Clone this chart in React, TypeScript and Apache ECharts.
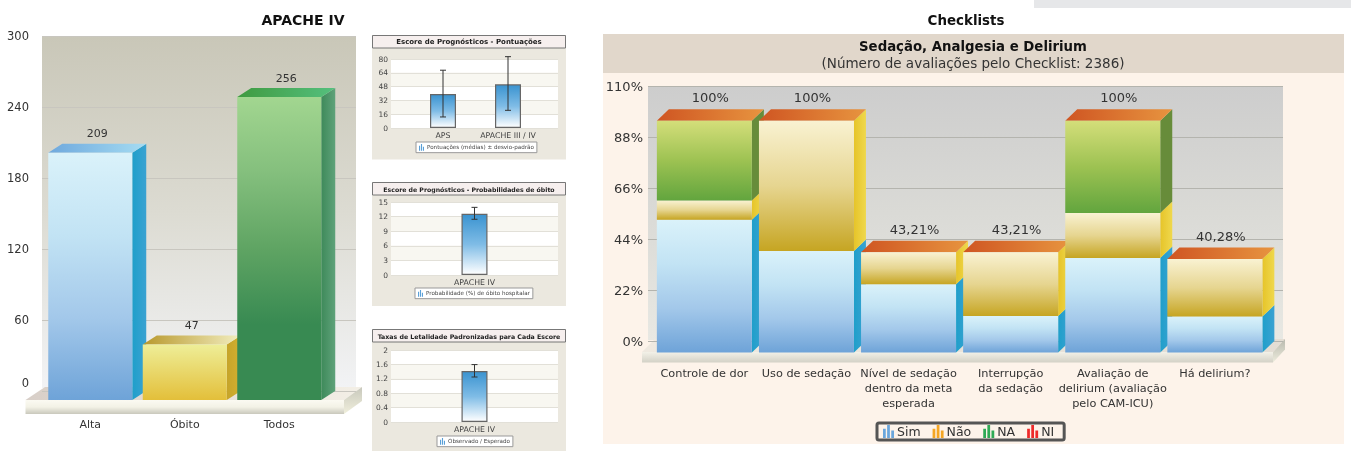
import React, { useEffect, useRef } from "react";
import * as echarts from "echarts";

const FONT = '"DejaVu Sans", Verdana, sans-serif';

// ---- APACHE IV
const apacheCategories = ["Alta", "Óbito", "Todos"];
const apacheValues = [209, 47, 256];
const apacheTicks = { max: 300, step: 60 };

// ---- small charts
const scoreCategories = ["APS", "APACHE III / IV"];
const scoreMeans = [39.4, 50.6];
const scoreLow = [12.8, 20.5];
const scoreHigh = [67, 82.7];
const probCategories = ["APACHE IV"];
const probMeans = [12.6];
const probLow = [11.45];
const probHigh = [13.9];
const smrCategories = ["APACHE IV"];
const smrMeans = [1.417];
const smrLow = [1.25];
const smrHigh = [1.595];

// ---- Checklists
const checkCategories = [
  "Controle de dor",
  "Uso de sedação",
  "Nível de sedação\ndentro da meta\nesperada",
  "Interrupção\nda sedação",
  "Avaliação de\ndelirium (avaliação\npelo CAM-ICU)",
  "Há delirium?",
];
const simValues = [57.3, 43.8, 29.4, 15.7, 40.8, 15.5];
const naoValues = [8.3, 56.2, 13.81, 27.51, 19.4, 24.78];
const naValues = [34.4, 0, 0, 0, 39.8, 0];
const niValues = [0, 0, 0, 0, 0, 0];
const checkTotals = ["100%", "100%", "43,21%", "43,21%", "100%", "40,28%"];

const lg = (stops: string[], horizontal = false) =>
  new echarts.graphic.LinearGradient(0, 0, horizontal ? 1 : 0, horizontal ? 0 : 1,
    stops.map((c, i) => ({ offset: stops.length === 1 ? 0 : i / (stops.length - 1), color: c })));

const BLUE = { front: ["#daf2fa", "#c2e3f4", "#a3c8ea", "#6ea3d8"], side: ["#1f9fca", "#3aa2d2"], top: ["#6ea8dd", "#a5dcf2"] };
const GOLD_L = { front: ["#eeee98", "#e3bf3a"], side: ["#c6a429", "#d2b030"], top: ["#b8982c", "#f2eec0"] };
const GREEN_L = { front: ["#a2d690", "#84bf7d", "#5fa463", "#388a52", "#388a52"], side: ["#3e8a5a", "#5fa27a"], top: ["#3f9a40", "#55c07e"] };
const apachePalette = [BLUE, GOLD_L, GREEN_L];

const GOLD = { front: ["#f9f2d2", "#e6d590", "#c6a522"], side: ["#e6c429", "#efd84d"] };
const GREEN = { front: ["#d4de7a", "#9dc252", "#62a53e"], side: ["#678c3a", "#678c3a"] };
const RED = { front: ["#f06a5a", "#d92b20"], side: ["#b02018", "#b02018"] };
const CAP = ["#cf5522", "#e7943f"];
const checkPalette = [BLUE, GOLD, GREEN, RED];

function box(api: any, opt: { cx: number; base: number; top: number; w: number; dx: number; dy: number; style: any; z2: number; cap?: string[]; label?: string; font?: string; labelGap?: number }) {
  const { cx, base, top, w, dx, dy, style, z2, cap, label, font, labelGap } = opt;
  const x = api.coord([cx, base])[0];
  const yb = api.coord([cx, base])[1] + dy;
  const yt = api.coord([cx, top])[1] + dy;
  const x0 = x - w / 2;
  const x1 = x + w / 2;
  const kids: any[] = [];
  kids.push({ type: "polygon", z2, shape: { points: [[x1, yt], [x1 + dx, yt - dy], [x1 + dx, yb - dy], [x1, yb]] }, style: { fill: lg(style.side, true) } });
  if (cap) {
    kids.push({ type: "polygon", z2, shape: { points: [[x0, yt], [x0 + dx, yt - dy], [x1 + dx, yt - dy], [x1, yt]] }, style: { fill: lg(cap, true) } });
  }
  kids.push({ type: "rect", z2: z2 + 1, shape: { x: x0, y: yt, width: w, height: yb - yt }, style: { fill: lg(style.front) } });
  if (label) {
    kids.push({ type: "text", z2: 500, style: { x: x + dx / 2, y: yt - dy - (labelGap as number), text: label, fill: "#333", font, align: "center", verticalAlign: "middle" } });
  }
  return { type: "group", children: kids };
}

function backdrop(w: { x: number; y: number; w: number; h: number; wall: string[] }, f: { left: number; back: number; right: number; backRight: number; y: number; yBack: number; h: number; topC: string[]; frontC: string[]; sideC: string[] }) {
  return [
    { type: "rect", z: -5, shape: { x: w.x, y: w.y, width: w.w, height: w.h }, style: { fill: lg(w.wall) } },
    { type: "polygon", z: -4, shape: { points: [[f.left, f.y], [f.back, f.yBack], [f.backRight, f.yBack], [f.right, f.y]] }, style: { fill: lg(f.topC, true) } },
    { type: "polygon", z: -4, shape: { points: [[f.right, f.y], [f.backRight, f.yBack], [f.backRight, f.yBack + f.h], [f.right, f.y + f.h]] }, style: { fill: lg(f.sideC) } },
    { type: "rect", z: -4, shape: { x: f.left, y: f.y, width: f.right - f.left, height: f.h }, style: { fill: lg(f.frontC) } },
  ];
}

const gtext = (x: number, y: number, text: string, font: string, fill = "#111") => ({
  type: "text", z: 10, style: { x, y, text, font, fill, align: "center", verticalAlign: "middle" },
});

function buildOption() {
  const grid: any[] = [];
  const xAxis: any[] = [];
  const yAxis: any[] = [];
  const series: any[] = [];
  const legend: any[] = [];
  const elements: any[] = [];

  // page + panels
  elements.push({ type: "rect", z: -6, shape: { x: 1034, y: 0, width: 317, height: 8 }, style: { fill: "#e6e7e9" } });
  elements.push(gtext(303, 20, "APACHE IV", `bold 14px ${FONT}`));
  elements.push(gtext(966, 20, "Checklists", `bold 13.4px ${FONT}`));

  // helper: a back grid with axis + gridlines, a front grid holding categories
  const addPlot = (back: any, front: any, categories: string[], yCfg: any, backExtra: any, xLabel: any) => {
    const gi = grid.length;
    grid.push({ left: back.left, top: back.top, width: back.width, height: back.height, containLabel: false });
    xAxis.push({ gridIndex: gi, type: "category", show: false, data: categories });
    yAxis.push({
      gridIndex: gi, type: "value", min: 0, max: yCfg.max, interval: yCfg.step,
      axisLine: { show: false }, axisTick: { show: false },
      axisLabel: yCfg.label,
      ...backExtra,
    });
    grid.push({ left: front.left, top: back.top, width: front.width, height: back.height });
    xAxis.push({
      gridIndex: gi + 1, type: "category", data: categories,
      axisLine: { show: false }, axisTick: { show: false }, axisLabel: { interval: 0, color: "#333", fontFamily: FONT, ...xLabel },
    });
    yAxis.push({ gridIndex: gi + 1, type: "value", min: 0, max: yCfg.max, interval: yCfg.step, show: false, splitLine: { show: false } });
    return gi + 1;
  };

  // ---- APACHE IV big chart
  elements.push(...backdrop(
    { x: 42, y: 36, w: 314, h: 352, wall: ["#c9c7b8", "#dcdbd2", "#f2f3f5"] },
    { left: 25.5, back: 45, right: 344, backRight: 362, y: 400, yBack: 387, h: 14, topC: ["#d8cfc8", "#f3efe6"], frontC: ["#fbfaf2", "#f3f2e6", "#c9c8bc"], sideC: ["#c8c8bc", "#f0efdc"] }
  ));
  const a = addPlot(
    { left: 42, top: 36, width: 314, height: 355 }, { left: 43, width: 283.5 }, apacheCategories,
    {
      max: apacheTicks.max, step: apacheTicks.step,
      label: {
        margin: 13, color: "#333", fontFamily: FONT, fontSize: 11.5,
        formatter: (v: number) => (v === 0 ? "{z|0}" : String(v)),
        rich: { z: { padding: [0, 0, 16, 0], fontSize: 11.5, fontFamily: FONT, color: "#333" } },
      },
    },
    { splitLine: { show: true, lineStyle: { color: "#c8c6bf", width: 1 } } },
    { margin: 28, fontSize: 11 }
  );
  series.push({
    type: "custom", name: "APACHE IV", xAxisIndex: a, yAxisIndex: a, silent: true, clip: false,
    data: apacheValues.map((v, i) => [i, v]),
    encode: { x: 0, y: 1 },
    renderItem: (_: any, api: any) => {
      const i = api.value(0);
      const v = api.value(1);
      return box(api, { cx: i, base: 0, top: v, w: 84, dx: 14, dy: 9, style: apachePalette[i], z2: i * 10, cap: apachePalette[i].top, label: String(v), font: `11px ${FONT}`, labelGap: 10 });
    },
  });

  // ---- small charts
  const small = (cfg: any) => {
    elements.push({ type: "rect", z: -5, shape: { x: 372, y: cfg.panelTop, width: 194, height: cfg.panelH }, style: { fill: "#ebe8df" } });
    elements.push({ type: "rect", z: -4, shape: { x: 372.5, y: cfg.panelTop + 0.5, width: 193, height: 12.5 }, style: { fill: "#f6efee", stroke: "#777", lineWidth: 1 } });
    elements.push(gtext(469, cfg.panelTop + 7, cfg.title, `bold ${cfg.titleSize}px ${FONT}`, "#222"));
    const gi = addPlot(
      { left: 391, top: cfg.top, width: 167, height: cfg.h }, { left: cfg.frontLeft, width: cfg.frontW }, cfg.cats,
      { max: cfg.max, step: cfg.step, label: { margin: 3, color: "#444", fontFamily: FONT, fontSize: 7.5 } },
      {
        splitLine: { show: true, lineStyle: { color: "#e2e0d8", width: 1 } },
        splitArea: { show: true, areaStyle: { color: ["#ffffff", "#f8f7f1"] } },
      },
      { margin: 3, fontSize: 7.8, color: "#444" }
    );
    series.push({
      type: "bar", name: cfg.legend, xAxisIndex: gi, yAxisIndex: gi, silent: true, barWidth: 26,
      data: cfg.means,
      itemStyle: { color: lg(["#3a93d0", "#7fbce6", "#ffffff"]), borderColor: "#666", borderWidth: 1.2 },
    });
    series.push({
      type: "custom", name: cfg.legend + " erro", xAxisIndex: gi, yAxisIndex: gi, silent: true, clip: false, z: 5,
      data: cfg.means.map((_: number, i: number) => [i, cfg.low[i], cfg.high[i]]),
      encode: { x: 0, y: [1, 2] },
      renderItem: (_: any, api: any) => {
        const p0 = api.coord([api.value(0), api.value(1)]);
        const p1 = api.coord([api.value(0), api.value(2)]);
        const st = { stroke: "#333", lineWidth: 1, fill: "none" };
        return {
          type: "group", children: [
            { type: "line", shape: { x1: p0[0], y1: p0[1], x2: p1[0], y2: p1[1] }, style: st },
            { type: "line", shape: { x1: p0[0] - 3, y1: p0[1], x2: p0[0] + 3, y2: p0[1] }, style: st },
            { type: "line", shape: { x1: p1[0] - 3, y1: p1[1], x2: p1[0] + 3, y2: p1[1] }, style: st },
          ],
        };
      },
    });
    legend.push({
      left: cfg.legLeft, top: cfg.legTop, selectedMode: false, padding: [2, 3], itemWidth: 5, itemHeight: 7, itemGap: 4,
      backgroundColor: "#ffffff", borderColor: "#999", borderWidth: 1,
      textStyle: { fontFamily: FONT, fontSize: 5.6, color: "#444", padding: [0, 0, 0, -2] },
      data: [{ name: cfg.legend, icon: "path://M0 3h2v9H0z M3.5 0h2v12h-2z M7 5h2v7H7z", itemStyle: { color: "#5aa0d8", borderWidth: 0 } }],
    });
  };
  small({
    panelTop: 35, panelH: 124.5, title: "Escore de Prognósticos - Pontuações", titleSize: 7, top: 59, h: 69, max: 80, step: 16,
    frontLeft: 410.5, frontW: 130, cats: scoreCategories, means: scoreMeans, low: scoreLow, high: scoreHigh,
    legend: "Pontuações (médias) ± desvio-padrão", legLeft: 416, legTop: 142,
  });
  small({
    panelTop: 182, panelH: 124, title: "Escore de Prognósticos - Probabilidades de óbito", titleSize: 6.2, top: 202, h: 73, max: 15, step: 3,
    frontLeft: 391, frontW: 167, cats: probCategories, means: probMeans, low: probLow, high: probHigh,
    legend: "Probabilidade (%) de óbito hospitalar", legLeft: 415, legTop: 288,
  });
  small({
    panelTop: 329, panelH: 122, title: "Taxas de Letalidade Padronizadas para Cada Escore", titleSize: 6.25, top: 350, h: 72, max: 2, step: 0.4,
    frontLeft: 391, frontW: 167, cats: smrCategories, means: smrMeans, low: smrLow, high: smrHigh,
    legend: "Observado / Esperado", legLeft: 437, legTop: 436,
  });

  // ---- Checklists
  elements.push({ type: "rect", z: -7, shape: { x: 603, y: 34, width: 741, height: 410 }, style: { fill: "#fdf3ea" } });
  elements.push({ type: "rect", z: -6, shape: { x: 603, y: 34, width: 741, height: 39 }, style: { fill: "#e1d7cb" } });
  elements.push(gtext(973, 46, "Sedação, Analgesia e Delirium", `bold 13.3px ${FONT}`));
  elements.push(gtext(973, 63, "(Número de avaliações pelo Checklist: 2386)", `13.5px ${FONT}`, "#333"));
  elements.push(...backdrop(
    { x: 648, y: 86, w: 635, h: 254, wall: ["#cdcdcd", "#dadad6", "#e8e8e3"] },
    { left: 642, back: 655, right: 1273, backRight: 1285, y: 352, yBack: 339, h: 10.5, topC: ["#efe9e0", "#e3ddd4"], frontC: ["#f3f1e8", "#d3d1c6"], sideC: ["#b9b9ae", "#ecebdc"] }
  ));
  const c = addPlot(
    { left: 648, top: 86, width: 635, height: 255 }, { left: 653.3, width: 612.6 }, checkCategories,
    { max: 110, step: 22, label: { margin: 5, color: "#333", fontFamily: FONT, fontSize: 13, formatter: "{value}%" } },
    { splitLine: { show: true, lineStyle: { color: "#b4b4ae", width: 1 } } },
    { margin: 25, fontSize: 11.3, lineHeight: 15 }
  );
  const stacks = [simValues, naoValues, naValues, niValues];
  ["Sim", "Não", "NA", "NI"].forEach((name, s) => {
    series.push({
      type: "custom", name, xAxisIndex: c, yAxisIndex: c, silent: true, clip: false,
      itemStyle: { color: ["#6aa6dc", "#f5a623", "#2eaa55", "#ee2a2a"][s] },
      data: stacks[s].map((v, i) => {
        let base = 0;
        for (let k = 0; k < s; k++) base += stacks[k][i];
        return [i, base, v];
      }),
      encode: { x: 0, y: 2 },
      renderItem: (_: any, api: any) => {
        const i = api.value(0);
        const b = api.value(1);
        const v = api.value(2);
        if (!v) return { type: "group", children: [] };
        let isTop = true;
        for (let k = s + 1; k < stacks.length; k++) if (stacks[k][i] > 0) isTop = false;
        return box(api, {
          cx: i, base: b, top: b + v, w: 95, dx: 12, dy: 11.5, style: checkPalette[s], z2: i * 10 + s,
          cap: isTop ? CAP : undefined, label: isTop ? checkTotals[i] : undefined, font: `13px ${FONT}`, labelGap: 11.5,
        });
      },
    });
  });
  legend.push({
    left: 877, top: 423, selectedMode: false, padding: [2, 10, 2, 6], itemWidth: 11, itemHeight: 13, itemGap: 12,
    backgroundColor: "#fdf3ea", borderColor: "#555", borderWidth: 3, borderRadius: 2,
    textStyle: { fontFamily: FONT, fontSize: 12.5, color: "#333", padding: [0, 0, 0, -2] },
    icon: "path://M0 4h3v10H0z M4.5 0h3v14h-3z M9 6h3v8H9z",
    data: ["Sim", "Não", "NA", "NI"],
  });

  return {
    animation: false,
    backgroundColor: "#ffffff",
    textStyle: { fontFamily: FONT },
    graphic: { elements },
    grid, xAxis, yAxis, series, legend,
  };
}

export default function App() {
  const ref = useRef<HTMLDivElement>(null);
  useEffect(() => {
    document.body.style.margin = "0";
    const chart = echarts.init(ref.current as HTMLDivElement, undefined, { renderer: "svg" });
    chart.setOption(buildOption() as any);
    return () => chart.dispose();
  }, []);
  return <div ref={ref} style={{ position: "absolute", left: 0, top: 0, width: 1351, height: 451, filter: "blur(0.4px)" }} />;
}
